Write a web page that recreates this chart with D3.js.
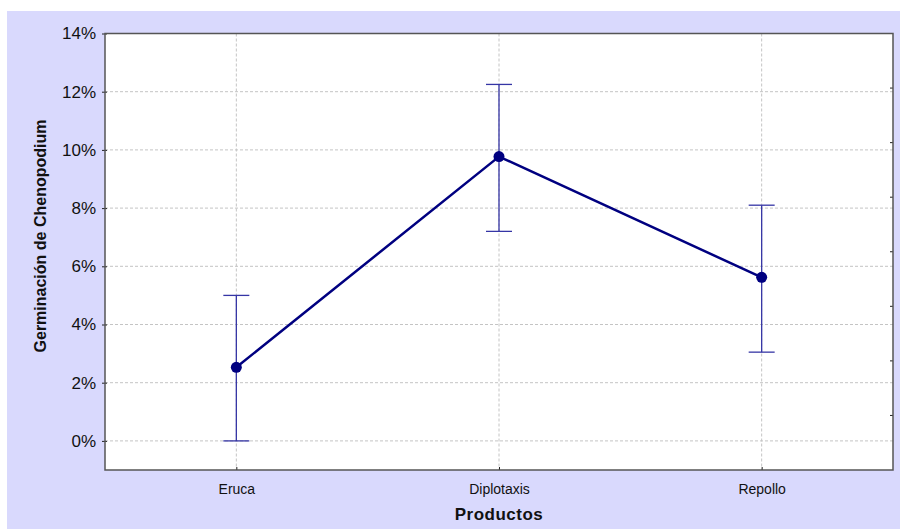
<!DOCTYPE html>
<html>
<head>
<meta charset="utf-8">
<script src="https://cdn.jsdelivr.net/npm/d3@7"></script>
<style>
    body { margin: 0; background: #fff; }
    text { font-family: Arial, "Liberation Sans", sans-serif; }
</style>
</head>
<body>
<div id="chart"></div>
<script>
    // data
    const categories = ['Eruca', 'Diplotaxis', 'Repollo'];
    const means = [0.0253, 0.0977, 0.0562];
    const upper = [0.0500, 0.1225, 0.0810];
    const lower = [0.0000, 0.0720, 0.0305];
    const yTicks = [0, 0.02, 0.04, 0.06, 0.08, 0.10, 0.12, 0.14];

    const width = 904;
    const height = 531;
    const margin = { top: 33.5, right: 11, bottom: 61, left: 105 };

    const svg = d3.select('#chart')
        .append('svg')
        .attr('width', width)
        .attr('height', height);

    // lavender panel
    svg.append('rect')
        .attr('x', 7).attr('y', 11)
        .attr('width', 893).attr('height', 518)
        .attr('fill', '#D9D9FD');

    const x = d3.scalePoint()
        .domain(categories)
        .range([margin.left, width - margin.right])
        .padding(0.5);

    const y = d3.scaleLinear()
        .domain([-0.01, 0.14])
        .range([height - margin.bottom, margin.top]);

    const x0 = margin.left, x1 = width - margin.right;
    const y0 = height - margin.bottom, y1 = margin.top;

    svg.append('rect')
        .attr('x', x0).attr('y', y1)
        .attr('width', x1 - x0).attr('height', y0 - y1)
        .attr('fill', '#fff');

    // grid lines
    svg.append('g')
        .selectAll('line')
        .data(yTicks.slice(0, -1))
        .join('line')
        .attr('x1', x0).attr('x2', x1)
        .attr('y1', d => y(d)).attr('y2', d => y(d))
        .attr('stroke', '#c4c4c4')
        .attr('stroke-dasharray', '3,2');

    svg.append('g')
        .selectAll('line')
        .data(categories)
        .join('line')
        .attr('x1', d => x(d)).attr('x2', d => x(d))
        .attr('y1', y1).attr('y2', y0)
        .attr('stroke', '#c4c4c4')
        .attr('stroke-dasharray', '3,2');

    // left axis
    const yAxis = svg.append('g')
        .attr('transform', `translate(${x0},0)`)
        .call(d3.axisLeft(y).tickValues(yTicks).tickFormat(d3.format('.0%')).tickSize(3).tickPadding(6));
    yAxis.select('.domain').remove();
    yAxis.selectAll('.tick line').attr('stroke', '#222').attr('x2', -3).attr('x1', 2);
    yAxis.selectAll('.tick text')
        .attr('font-size', 17)
        .attr('fill', '#111')
        .attr('font-family', 'Arial, "Liberation Sans", sans-serif');

    // right minor ticks (8 divisions)
    const rightTicks = d3.range(1, 8).map(k => y1 + k * (y0 - y1) / 8);
    svg.append('g')
        .selectAll('line')
        .data(rightTicks)
        .join('line')
        .attr('x1', x1 - 3).attr('x2', x1)
        .attr('y1', d => d).attr('y2', d => d)
        .attr('stroke', '#222');

    // bottom axis
    const xAxis = svg.append('g')
        .attr('transform', `translate(0,${y0})`)
        .call(d3.axisBottom(x).tickSize(-3).tickPadding(14));
    xAxis.select('.domain').remove();
    xAxis.selectAll('.tick line').attr('stroke', '#222');
    xAxis.selectAll('.tick text')
        .attr('font-size', 14)
        .attr('fill', '#111')
        .attr('font-family', 'Arial, "Liberation Sans", sans-serif');

    // plot border
    svg.append('rect')
        .attr('x', x0).attr('y', y1)
        .attr('width', x1 - x0).attr('height', y0 - y1)
        .attr('fill', 'none')
        .attr('stroke', '#555')
        .attr('stroke-width', 1.5);

    // error bars
    const errG = svg.append('g')
        .attr('stroke', '#3535a5')
        .attr('stroke-width', 1.3);
    categories.forEach((c, i) => {
        errG.append('line')
            .attr('x1', x(c)).attr('x2', x(c))
            .attr('y1', y(upper[i])).attr('y2', y(lower[i]));
        errG.append('line')
            .attr('x1', x(c) - 13).attr('x2', x(c) + 13)
            .attr('y1', y(upper[i])).attr('y2', y(upper[i]));
        errG.append('line')
            .attr('x1', x(c) - 13).attr('x2', x(c) + 13)
            .attr('y1', y(lower[i])).attr('y2', y(lower[i]));
    });

    // mean line
    const line = d3.line()
        .x((d, i) => x(categories[i]))
        .y(d => y(d));

    svg.append('path')
        .datum(means)
        .attr('d', line)
        .attr('fill', 'none')
        .attr('stroke', '#000080')
        .attr('stroke-width', 2.5);

    svg.append('g')
        .selectAll('circle')
        .data(means)
        .join('circle')
        .attr('cx', (d, i) => x(categories[i]))
        .attr('cy', d => y(d))
        .attr('r', 5.5)
        .attr('fill', '#000080');

    // axis titles
    svg.append('text')
        .attr('x', (x0 + x1) / 2)
        .attr('y', 520)
        .attr('text-anchor', 'middle')
        .attr('font-size', 17)
        .attr('font-weight', 'bold')
        .attr('letter-spacing', 0.5)
        .attr('fill', '#111')
        .text('Productos');

    svg.append('text')
        .attr('transform', 'translate(46,236) rotate(-90)')
        .attr('text-anchor', 'middle')
        .attr('font-size', 16)
        .attr('font-weight', 'bold')
        .attr('fill', '#111')
        .text('Germinación de Chenopodium');
</script>
</body>
</html>
